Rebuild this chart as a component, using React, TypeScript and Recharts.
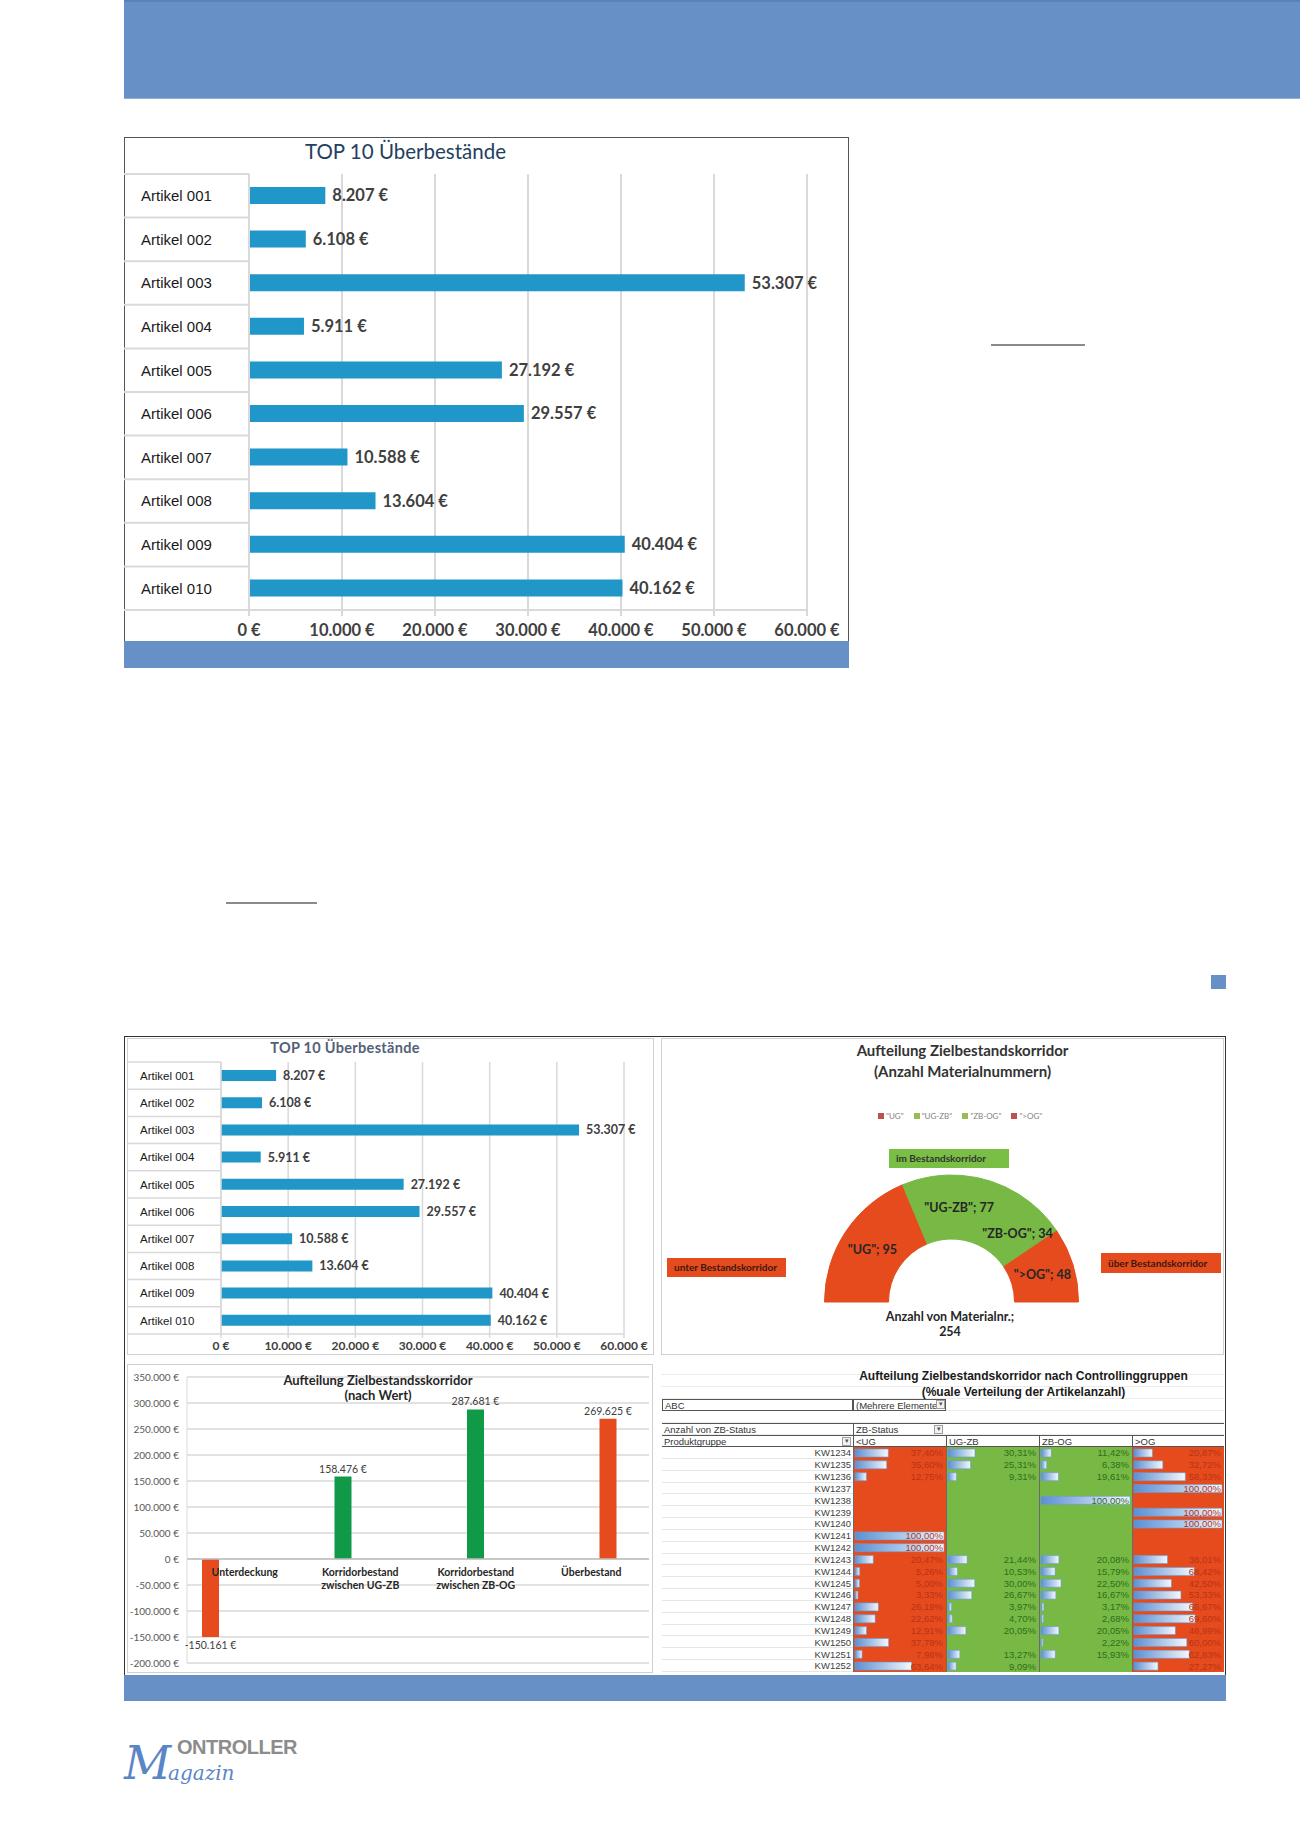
import React from 'react';
import {
  BarChart, Bar, XAxis, YAxis, CartesianGrid, LabelList,
  PieChart, Pie, Cell, Legend, ReferenceLine, ReferenceDot,
} from 'recharts';

// TOP 10 Überbestände
const articles = ['Artikel 001', 'Artikel 002', 'Artikel 003', 'Artikel 004', 'Artikel 005', 'Artikel 006', 'Artikel 007', 'Artikel 008', 'Artikel 009', 'Artikel 010'];
const overstock = [8207, 6108, 53307, 5911, 27192, 29557, 10588, 13604, 40404, 40162];
const overstockTicks = [0, 10000, 20000, 30000, 40000, 50000, 60000];

// Aufteilung Zielbestandskorridor (Anzahl Materialnummern)
const corridorNames = ['"UG"', '"UG-ZB"', '"ZB-OG"', '">OG"'];
const corridorCounts = [95, 77, 34, 48];
const corridorTotal = 254;

// Aufteilung Zielbestandsskorridor (nach Wert)
const valueCategories = ['Unterdeckung', 'Korridorbestand zwischen UG-ZB', 'Korridorbestand zwischen ZB-OG', 'Überbestand'];
const valueSeries = ['Unterdeckung', 'UG-ZB', 'ZB-OG', 'Überbestand', '(Leer)'];
const valueTotals = [-150161, 158476, 287681, 269625];
const valueTicks = [-200000, -150000, -100000, -50000, 0, 50000, 100000, 150000, 200000, 250000, 300000, 350000];

// Aufteilung nach Controllinggruppen (% der Artikelanzahl)
const weeks = ['KW1234', 'KW1235', 'KW1236', 'KW1237', 'KW1238', 'KW1239', 'KW1240', 'KW1241', 'KW1242', 'KW1243', 'KW1244', 'KW1245', 'KW1246', 'KW1247', 'KW1248', 'KW1249', 'KW1250', 'KW1251', 'KW1252'];
const statusCols = ['<UG', 'UG-ZB', 'ZB-OG', '>OG'];
const shareUG = [37.40, 35.60, 12.75, 0, 0, 0, 0, 100, 100, 20.47, 5.26, 5.00, 3.33, 26.19, 22.62, 12.91, 37.78, 7.96, 63.64];
const shareUGZB = [30.31, 25.31, 9.31, 0, 0, 0, 0, 0, 0, 21.44, 10.53, 30.00, 26.67, 3.97, 4.70, 20.05, 0, 13.27, 9.09];
const shareZBOG = [11.42, 6.38, 19.61, 0, 100, 0, 0, 0, 0, 20.08, 15.79, 22.50, 16.67, 3.17, 2.68, 20.05, 2.22, 15.93, 0];
const shareOG = [20.87, 32.72, 58.33, 100, 0, 100, 100, 0, 0, 38.01, 68.42, 42.50, 53.33, 66.67, 69.60, 46.99, 60.00, 62.83, 27.27];

const BAND = '#6690c6';
const GRID = '#d9d9d9';
const BAR_BLUE = '#2196c8';
const RED = '#e54b1c';
const GREEN = '#77b944';
const DARK_GREEN = '#109a48';
const corridorColors = [RED, GREEN, GREEN, RED];
const legendColors = ['#c0504d', '#9bbb59', '#9bbb59', '#c0504d'];
const valueColors = [RED, DARK_GREEN, DARK_GREEN, RED, '#999'];
const colBg = [RED, GREEN, GREEN, RED];
const colText = ['#b8331a', '#2f6e1d', '#2f6e1d', '#b8331a'];

const overstockData = articles.map((name, i) => ({ name, value: overstock[i] }));
const pieData = corridorNames.map((name, i) => ({ name, value: corridorCounts[i] }));
const valueData = valueCategories.map((cat, i) => {
  const row: any = { cat };
  valueSeries.forEach((_, j) => { row[`s${j}`] = j === 4 ? null : j === i ? valueTotals[i] : 0; });
  return row;
});
const shares = [shareUG, shareUGZB, shareZBOG, shareOG];
const tableData = weeks.map((kw, i) => ({ kw, c0: shareUG[i], c1: shareUGZB[i], c2: shareZBOG[i], c3: shareOG[i] }));

// non-breaking space keeps "€" on the same line as the number
const euro = (v: any) => {
  const n = Number(v);
  return `${n < 0 ? '-' : ''}${Math.abs(n).toString().replace(/\B(?=(\d{3})+(?!\d))/g, '.')}\u00a0€`;
};
const pct = (v: any) => `${Number(v).toFixed(2).replace('.', ',')}%`;

const abs = (left: number, top: number, width: number, height: number, extra: any = {}): React.CSSProperties => ({
  position: 'absolute', left, top, width, height, boxSizing: 'border-box', ...extra,
});

type OverstockProps = {
  width: number; height: number; top: number; right: number; colW: number; labelX: number;
  labelSize: number; valueSize: number; tickFont: number; barSize: number; axisH: number;
  tickLen: number; tickGap: number; line: number;
};

function OverstockChart(p: OverstockProps) {
  const rowH = (p.height - p.top - p.axisH) / articles.length;
  const renderTick = (t: any) => (
    <g>
      <line x1={0} x2={p.colW} y1={t.y - rowH / 2} y2={t.y - rowH / 2} stroke={GRID} strokeWidth={p.line} />
      {t.index === articles.length - 1 && (
        <line x1={0} x2={p.colW} y1={t.y + rowH / 2} y2={t.y + rowH / 2} stroke={GRID} strokeWidth={p.line} />
      )}
      <text x={p.labelX} y={t.y} dy="0.36em" fontSize={p.labelSize} fill="#1a1a1a" fontFamily="'Liberation Sans', Arial, sans-serif">
        {t.payload.value}
      </text>
    </g>
  );
  return (
    <BarChart width={p.width} height={p.height} data={overstockData} layout="vertical"
      margin={{ top: p.top, right: p.right, left: 0, bottom: 0 }} barSize={p.barSize}>
      <CartesianGrid horizontal={false} stroke={GRID} strokeWidth={p.line} />
      <XAxis type="number" domain={[0, 60000]} ticks={overstockTicks} interval={0} tickFormatter={euro}
        height={p.axisH} tickSize={p.tickLen} tickMargin={p.tickGap}
        axisLine={{ stroke: GRID, strokeWidth: p.line }} tickLine={{ stroke: GRID, strokeWidth: p.line }}
        tick={{ fontSize: p.tickFont, fontWeight: 700, fill: '#404040', fontFamily: 'Lato' }} />
      <YAxis type="category" dataKey="name" width={p.colW} interval={0}
        axisLine={{ stroke: GRID, strokeWidth: p.line }} tickLine={false} tick={renderTick} />
      <Bar dataKey="value" fill={BAR_BLUE} isAnimationActive={false}>
        <LabelList dataKey="value" position="right" offset={7} formatter={euro}
          fill="#404040" fontSize={p.valueSize} fontWeight={700} fontFamily="Lato" />
      </Bar>
    </BarChart>
  );
}

const renderPieLabel = (p: any) => {
  const rad = Math.PI / 180;
  const r = (p.innerRadius + p.outerRadius) / 2;
  const x = p.cx + r * Math.cos(-p.midAngle * rad);
  const y = p.cy + r * Math.sin(-p.midAngle * rad);
  return (
    <text x={x} y={y} textAnchor="middle" dominantBaseline="central" fontSize={12.5} fontWeight={700}
      fill="#262626" fontFamily="Lato">{`${p.name}; ${p.value}`}</text>
  );
};

const renderPieLegend = () => (
  <div style={{ display: 'flex', gap: 10, fontSize: 8, color: '#7f7f7f', fontFamily: 'Lato', paddingLeft: 216, lineHeight: '10px' }}>
    {corridorNames.map((n, i) => (
      <span key={n} style={{ display: 'flex', alignItems: 'center', gap: 2 }}>
        <span style={{ width: 6, height: 6, background: legendColors[i], display: 'inline-block' }} />
        {n}
      </span>
    ))}
  </div>
);

const catLabel = (name: string) => (p: any) => {
  const vb = p.viewBox || {};
  const cx = vb.x + (vb.width || 0) / 2;
  const cy = vb.y + (vb.height || 0) / 2;
  const cut = name.length > 14 ? name.indexOf(' ') : -1;
  const lines = cut > 0 ? [name.slice(0, cut), name.slice(cut + 1)] : [name];
  return (
    <text x={cx} textAnchor="middle" fontSize={10.5} fontWeight={700} fill="#262626" fontFamily="Lato">
      {lines.map((l, i) => <tspan key={i} x={cx} y={cy + 17 + i * 13}>{l}</tspan>)}
    </text>
  );
};

function ValueChart() {
  return (
    <BarChart width={526} height={309} data={valueData} margin={{ top: 13, right: 4, left: 0, bottom: 10 }}
      barGap={0} barSize={17}>
      <CartesianGrid vertical={false} stroke={GRID} strokeWidth={1.5} />
      <XAxis dataKey="cat" hide />
      <YAxis domain={[-200000, 350000]} ticks={valueTicks} interval={0} tickFormatter={euro} width={60}
        tickSize={0} tickMargin={8} axisLine={{ stroke: GRID }} tickLine={false}
        tick={{ fontSize: 10, fill: '#595959', fontFamily: 'Lato' }} />
      <ReferenceLine y={0} stroke="#bfbfbf" strokeWidth={1.5} />
      {valueSeries.map((s, j) => (
        <Bar key={s} name={s} dataKey={`s${j}`} fill={valueColors[j]} isAnimationActive={false}>
          {j < 4 && (
            <LabelList dataKey={`s${j}`} position="top" offset={4} formatter={euro}
              fill="#404040" fontSize={10.5} fontFamily="Lato" />
          )}
        </Bar>
      ))}
      {valueCategories.map((c) => (
        <ReferenceDot key={c} x={c} y={0} r={0} fill="none" stroke="none" label={catLabel(c)} />
      ))}
    </BarChart>
  );
}

const ROW_TOP = 1447;
const ROW_H = 11.84;
const colEdges = [853, 946, 1039, 1132, 1224];

function ShareColumn({ idx }: { idx: number }) {
  const first = idx === 0;
  const left = first ? 662 : colEdges[idx];
  const width = colEdges[idx + 1] - left;
  const height = ROW_H * weeks.length;
  const gid = `dataBar${idx}`;
  const renderShare = (p: any) => {
    const vb = p.viewBox || p;
    return (
      <text x={width - 3} y={vb.y + vb.height / 2} dy="0.36em" textAnchor="end" fontSize={9.5}
        fill={colText[idx]} fontFamily="'Liberation Sans', Arial, sans-serif">{pct(p.value)}</text>
    );
  };
  const renderWeek = (t: any) => (
    <text x={189} y={t.y} dy="0.36em" textAnchor="end" fontSize={9.5} fill="#404040"
      fontFamily="'Liberation Sans', Arial, sans-serif">{t.payload.value}</text>
  );
  return (
    <div style={abs(left, ROW_TOP, width, height)}>
      <BarChart width={width} height={height} data={tableData} layout="vertical" barSize={8}
        margin={{ top: 0, right: 2, left: first ? 0 : 2, bottom: 0 }}>
        <defs>
          <linearGradient id={gid} x1="0" y1="0" x2="1" y2="0">
            <stop offset="0%" stopColor="#5b8fd2" />
            <stop offset="100%" stopColor="#f4f8fc" />
          </linearGradient>
        </defs>
        <XAxis type="number" domain={[0, 100]} hide />
        <YAxis type="category" dataKey="kw" hide={!first} width={first ? 193 : 0} interval={0}
          axisLine={false} tickLine={false} tick={renderWeek} />
        <Bar dataKey={`c${idx}`} fill={`url(#${gid})`} stroke="#6a9bd8" strokeWidth={0.6} isAnimationActive={false}>
          <LabelList dataKey={`c${idx}`} content={renderShare} />
        </Bar>
      </BarChart>
    </div>
  );
}

const cellText: React.CSSProperties = {
  fontFamily: "'Liberation Sans', Arial, sans-serif", fontSize: 9.5, color: '#333', lineHeight: '11px',
  paddingLeft: 2, whiteSpace: 'nowrap', overflow: 'hidden',
};
const dropBox = (left: number, top: number) => (
  <div style={abs(left, top, 9, 9, { border: '1px solid #a0a0a0', background: '#f2f2f2', fontSize: 7, lineHeight: '7px', textAlign: 'center', color: '#555' })}>▾</div>
);

export default function App() {
  return (
    <div style={{ position: 'absolute', left: 0, top: 0, width: 1300, height: 1839, background: '#fff', overflow: 'hidden' }}>
      {/* page header band */}
      <div style={abs(124, 0, 1176, 99, { background: BAND, borderBottom: '1px solid #8fb0da', borderTop: '2px solid #5a83bb' })} />

      {/* big TOP 10 chart */}
      <div style={abs(124, 137, 725, 505, { border: '1.5px solid #555' })} />
      <div style={abs(124, 137, 725, 504)}>
        <OverstockChart width={725} height={504} top={37} right={42} colW={125} labelX={17}
          labelSize={15} valueSize={16.5} tickFont={16.5} barSize={17} axisH={31} tickLen={6} tickGap={8} line={2} />
      </div>
      <div style={abs(305, 139, 300, 24, { fontFamily: 'Lato', fontSize: 20.5, color: '#243f60', lineHeight: '24px', whiteSpace: 'nowrap' })}>
        TOP 10 Überbestände
      </div>
      <div style={abs(124, 641, 725, 27, { background: BAND })} />

      <div style={abs(991, 344, 94, 2, { background: '#8a8a8a' })} />
      <div style={abs(226, 902, 91, 2, { background: '#8a8a8a' })} />
      <div style={abs(1211, 975, 15, 14, { background: BAND })} />

      {/* dashboard */}
      <div style={abs(124, 1036, 1102, 640, { border: '1.5px solid #333' })} />
      <div style={abs(127, 1038, 527, 317, { border: '1px solid #d0d0d0' })} />
      <div style={abs(661, 1038, 563, 317, { border: '1px solid #d0d0d0' })} />
      <div style={abs(127, 1364, 526, 309, { border: '1px solid #d0d0d0' })} />

      {/* mini TOP 10 */}
      <div style={abs(127, 1038, 527, 317)}>
        <OverstockChart width={527} height={317} top={24} right={30} colW={94} labelX={13}
          labelSize={11.5} valueSize={12.5} tickFont={12} barSize={11} axisH={21} tickLen={4} tickGap={3} line={1.5} />
      </div>
      <div style={abs(195, 1039, 300, 18, { fontFamily: 'Lato', fontWeight: 700, fontSize: 14.5, color: '#536178', lineHeight: '18px', textAlign: 'center', letterSpacing: 0.3 })}>
        TOP 10 Überbestände
      </div>

      {/* half doughnut */}
      <div style={abs(762.5, 1040, 400, 42, { fontFamily: 'Lato', fontWeight: 700, fontSize: 15, color: '#333', lineHeight: '21px', textAlign: 'center' })}>
        Aufteilung Zielbestandskorridor<br />(Anzahl Materialnummern)
      </div>
      <div style={abs(662, 1037, 561, 318)}>
        <PieChart width={561} height={318} margin={{ top: 0, right: 0, bottom: 0, left: 0 }}>
          <Legend content={renderPieLegend} verticalAlign="bottom" wrapperStyle={{ top: 74, left: 0, width: 561, bottom: 'auto' }} />
          <Pie data={pieData} dataKey="value" nameKey="name" cx={289.5} cy={265} innerRadius={63} outerRadius={127}
            startAngle={180} endAngle={0} isAnimationActive={false} label={renderPieLabel} labelLine={false}>
            {pieData.map((d, i) => <Cell key={d.name} fill={corridorColors[i]} stroke={corridorColors[i]} />)}
          </Pie>
        </PieChart>
      </div>
      <div style={abs(889, 1149, 120, 19, { background: '#79bf45', fontFamily: 'Lato', fontWeight: 700, fontSize: 10, color: '#333', lineHeight: '19px', paddingLeft: 7 })}>
        im Bestandskorridor
      </div>
      <div style={abs(667, 1258, 119, 19, { background: RED, fontFamily: 'Lato', fontWeight: 700, fontSize: 10, color: '#3a1a10', lineHeight: '19px', paddingLeft: 7 })}>
        unter Bestandskorridor
      </div>
      <div style={abs(1101, 1253, 120, 20, { background: RED, fontFamily: 'Lato', fontWeight: 700, fontSize: 10, color: '#3a1a10', lineHeight: '20px', paddingLeft: 7 })}>
        über Bestandskorridor
      </div>
      <div style={abs(830, 1309, 240, 32, { fontFamily: 'Lato', fontWeight: 700, fontSize: 12.5, color: '#262626', lineHeight: '15px', textAlign: 'center' })}>
        Anzahl von Materialnr.;<br />{corridorTotal}
      </div>

      {/* column chart by value */}
      <div style={abs(127, 1364, 526, 309)}>
        <ValueChart />
      </div>
      <div style={abs(228, 1373, 300, 32, { fontFamily: 'Lato', fontWeight: 700, fontSize: 13, color: '#262626', lineHeight: '15px', textAlign: 'center' })}>
        Aufteilung Zielbestandsskorridor<br />(nach Wert)
      </div>

      {/* pivot table with data bars */}
      <div style={abs(661, 1363, 563, 84, {
        backgroundImage: 'repeating-linear-gradient(to bottom, transparent 0, transparent 11px, #ececec 11px, #ececec 12px)',
      })} />
      <div style={abs(662, ROW_TOP, 191, ROW_H * weeks.length, {
        backgroundImage: `repeating-linear-gradient(to bottom, transparent 0, transparent ${ROW_H - 1}px, #e6e6e6 ${ROW_H - 1}px, #e6e6e6 ${ROW_H}px)`,
      })} />
      <div style={abs(823.5, 1368, 400, 32, { fontFamily: "'Liberation Sans', Arial, sans-serif", fontWeight: 700, fontSize: 12, color: '#1a1a1a', lineHeight: '16px', textAlign: 'center', whiteSpace: 'nowrap' })}>
        Aufteilung Zielbestandskorridor nach Controllinggruppen<br />(%uale Verteilung der Artikelanzahl)
      </div>
      <div style={abs(662, 1399, 191, 12, { ...cellText, border: '1px solid #555' })}>ABC</div>
      <div style={abs(853, 1399, 93, 12, { ...cellText, border: '1px solid #555' })}>(Mehrere Elemente</div>
      {dropBox(936, 1400)}
      <div style={abs(662, 1423, 562, 1, { background: '#555' })} />
      <div style={abs(662, 1435, 562, 1, { background: '#555' })} />
      <div style={abs(662, 1446, 562, 1, { background: '#555' })} />
      <div style={abs(662, 1424, 191, 11, cellText)}>Anzahl von ZB-Status</div>
      <div style={abs(853, 1424, 93, 11, { ...cellText, borderLeft: '1px solid #555' })}>ZB-Status</div>
      {dropBox(934, 1425)}
      <div style={abs(662, 1436, 191, 11, cellText)}>Produktgruppe</div>
      {dropBox(842, 1437)}
      {statusCols.map((s, i) => (
        <div key={s} style={abs(colEdges[i], 1436, colEdges[i + 1] - colEdges[i], 11, { ...cellText, borderLeft: '1px solid #555' })}>{s}</div>
      ))}
      {shares.map((_, i) => (
        <div key={i} style={abs(colEdges[i], ROW_TOP, colEdges[i + 1] - colEdges[i], ROW_H * weeks.length, {
          background: colBg[i], borderLeft: '1px solid #6b6b6b',
        })} />
      ))}
      {shares.map((_, i) => <ShareColumn key={i} idx={i} />)}

      <div style={abs(124, 1675, 1102, 26, { background: BAND })} />

      {/* logo */}
      <div style={abs(124, 1730, 40, 66, { fontFamily: "'DejaVu Serif', serif", fontStyle: 'italic', fontSize: 46, color: '#5b86c5', lineHeight: '66px' })}>M</div>
      <div style={abs(177, 1736, 120, 22, { fontFamily: "'Liberation Sans Narrow', 'Liberation Sans', sans-serif", fontWeight: 700, fontSize: 20, color: '#8c8c8c', lineHeight: '22px', letterSpacing: -0.5 })}>ONTROLLER</div>
      <div style={abs(168, 1759, 110, 28, { fontFamily: "'DejaVu Serif', serif", fontStyle: 'italic', fontSize: 20, color: '#5b86c5', lineHeight: '28px' })}>agazin</div>
    </div>
  );
}
